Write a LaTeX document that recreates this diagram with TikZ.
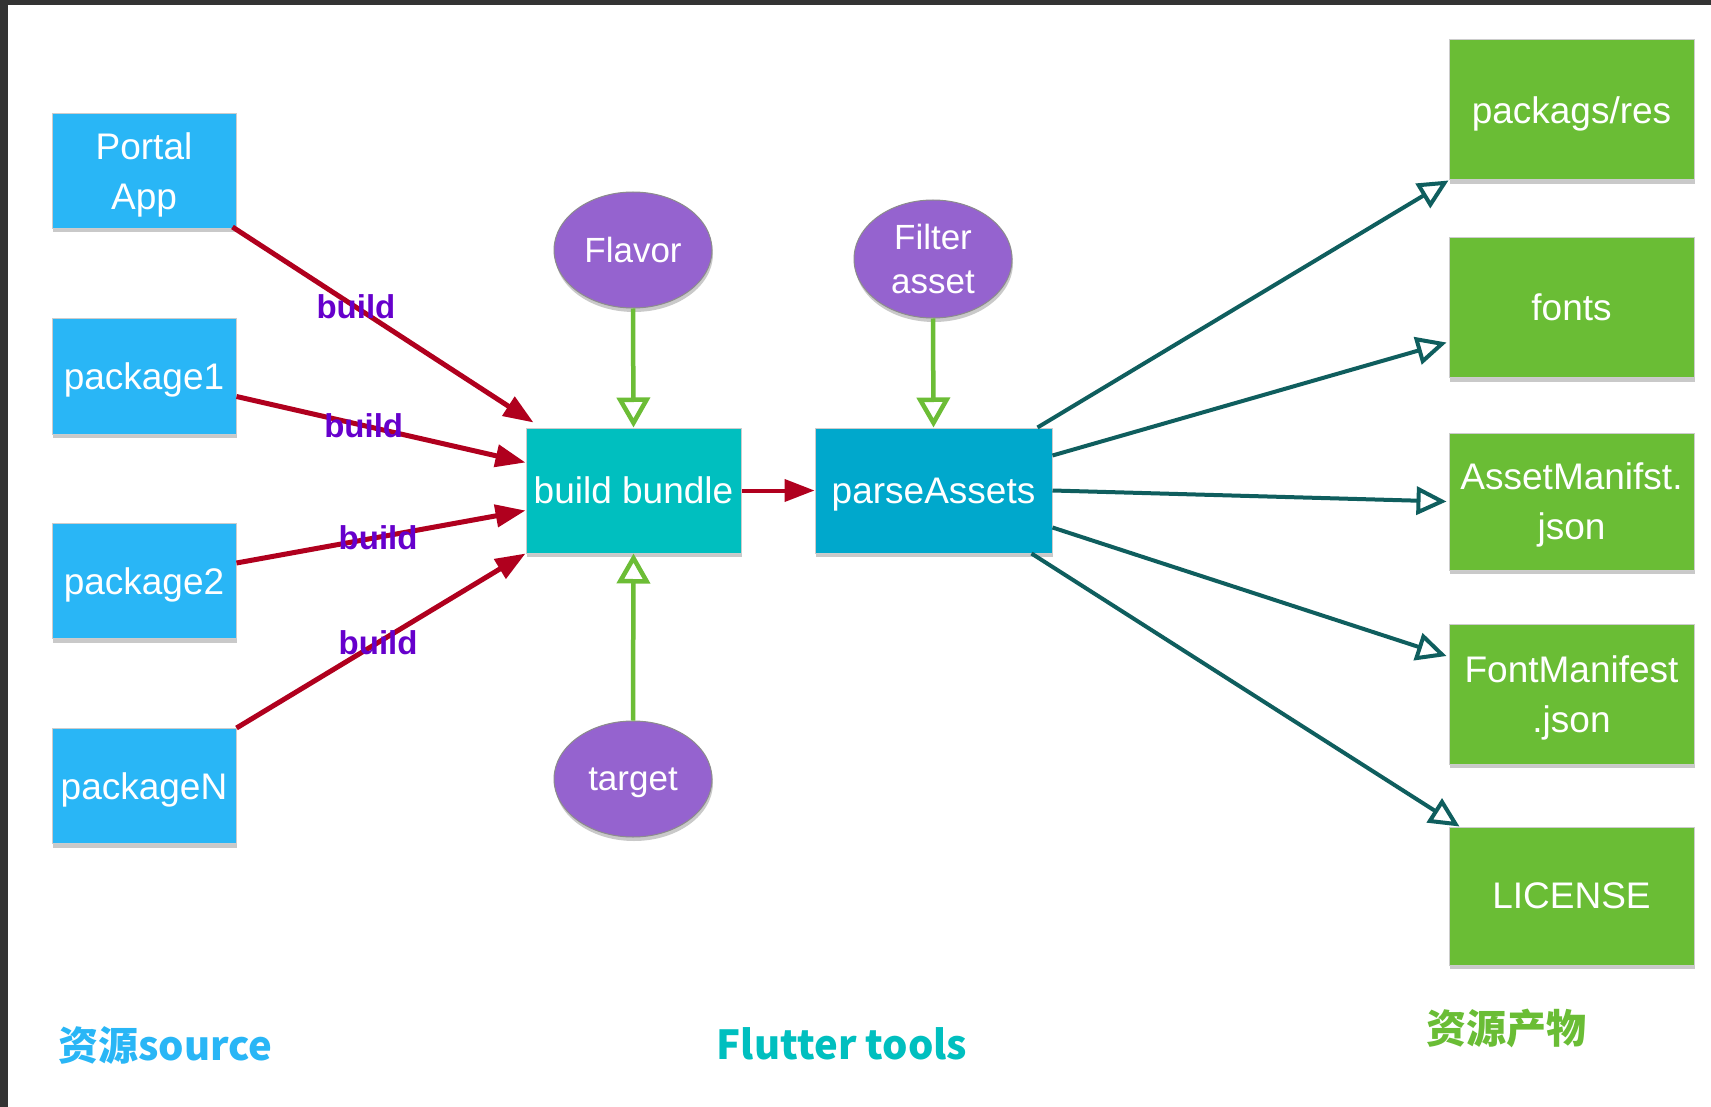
\documentclass[tikz,border=0pt]{standalone}
\usepackage{fontspec}
\setmainfont{Liberation Sans}
\newfontfamily\cjk{Noto Sans CJK SC}
\usetikzlibrary{arrows.meta,shapes.geometric,shadows}
\definecolor{srcblue}{HTML}{29B6F6}
\definecolor{bundlecol}{HTML}{00BFBF}
\definecolor{parsecol}{HTML}{00A8CC}
\definecolor{outgreen}{HTML}{6ABD35}
\definecolor{ellcol}{HTML}{9563CF}
\definecolor{redline}{HTML}{B0001E}
\definecolor{buildpurple}{HTML}{6600CC}
\definecolor{greenline}{HTML}{6CBD36}
\definecolor{tealline}{HTML}{0F5E5E}
\definecolor{framecol}{HTML}{333333}
\tikzset{
  boxshadow/.style={drop shadow={shadow xshift=1pt, shadow yshift=-4pt, opacity=0.35, fill=black!60}},
  box/.style={rectangle, inner sep=0pt, align=center, text=white, text depth=0pt,
    font=\fontsize{37}{50}\selectfont, draw=white!80!black, line width=1pt, boxshadow},
  srcbox/.style={box, fill=srcblue, minimum width=184pt, minimum height=115pt},
  outbox/.style={box, fill=outgreen, minimum width=245pt, minimum height=140pt},
  ell/.style={ellipse, fill=ellcol, draw=black!45, line width=1pt, inner sep=0pt, text depth=0pt,
    minimum width=158pt, minimum height=116pt, text=white, align=center,
    font=\fontsize{35}{44}\selectfont, boxshadow},
  redarrow/.style={draw=redline, line width=5pt, -{Triangle[length=30pt,width=22pt]}},
  greenarrow/.style={draw=greenline, line width=4.5pt, -{Triangle[open,length=30pt,width=33pt]}},
  tealarrow/.style={draw=tealline, line width=4pt, -{Triangle[open,length=30pt,width=28pt]}},
  buildlbl/.style={text=buildpurple, font=\bfseries\fontsize{33}{36}\selectfont, inner sep=0pt},
  bottomlbl/.style={font=\cjk\bfseries\fontsize{40}{44}\selectfont, inner sep=0pt},
}
\begin{document}
\begin{tikzpicture}[x=1pt,y=-1pt]
\useasboundingbox (0,0) rectangle (1711,1107);
\fill[framecol] (0,0) rectangle (1711,1107);
\fill[white] (8,5) rectangle (1711,1107);

% source boxes
\node[srcbox] (portal) at (144,171) {Portal\\App};
\node[srcbox] (pkg1) at (144,376.5) {package1};
\node[srcbox] (pkg2) at (144,581) {package2};
\node[srcbox] (pkgN) at (144,786) {packageN};

% tools
\node[box, fill=bundlecol, minimum width=215pt, minimum height=125pt] (bundle) at (633.5,490.5) {build bundle};
\node[box, fill=parsecol, minimum width=237pt, minimum height=125pt] (parse) at (933.5,490.5) {parseAssets};

\node[ell] (flavor) at (633,250) {Flavor};
\node[ell, minimum height=118pt] (filter) at (933,259) {Filter\\asset};
\node[ell] (target) at (633,779) {target};

% outputs
\node[outbox] (res) at (1571.5,110) {packags/res};
\node[outbox] (fonts) at (1571.5,307.5) {fonts};
\node[outbox, minimum height=137pt] (asset) at (1571.5,501.5) {AssetManifst.\\json};
\node[outbox] (fontm) at (1571.5,694) {FontManifest\\.json};
\node[outbox, minimum height=138pt] (license) at (1571.5,896) {LICENSE};

% red arrows
\draw[redarrow] ([xshift=-4pt,yshift=2pt]portal.south east) -- node[buildlbl, pos=0.41] {build} ([xshift=8pt,yshift=5pt]bundle.north west);
\draw[redarrow] ([yshift=-20pt]pkg1.east) -- node[buildlbl, pos=0.44] {build} ([yshift=28pt]bundle.west);
\draw[redarrow] ([yshift=18pt]pkg2.east) -- node[buildlbl, pos=0.49] {build} ([yshift=-20pt]bundle.west);
\draw[redarrow] (pkgN.north east) -- node[buildlbl, pos=0.49] {build} (bundle.south west);
\draw[redarrow, line width=4pt] (bundle.east) -- (parse.west);

% green arrows
\draw[greenarrow] (flavor.south) -- (bundle.north);
\draw[greenarrow] (filter.south) -- (parse.north);
\draw[greenarrow] (target.north) -- (bundle.south);

% teal arrows
\draw[tealarrow] ([xshift=-15pt]parse.north east) -- (res.south west);
\draw[tealarrow] ([yshift=35pt]parse.east) -- ([xshift=-2pt,yshift=-35pt]fonts.west);
\draw[tealarrow] (parse.east) -- ([xshift=-2pt]asset.west);
\draw[tealarrow] ([yshift=-37pt]parse.east) -- ([xshift=-2pt,yshift=38pt]fontm.west);
\draw[tealarrow] ([xshift=-21pt]parse.south east) -- ([xshift=11pt]license.north west);

% bottom labels
\node[bottomlbl, anchor=west, text=srcblue] (lsrc) at (58,1045) {资源source};
\node[bottomlbl, text=bundlecol] (ltools) at (842,1044) {Flutter tools};
\node[bottomlbl, text=outgreen] (lout) at (1506,1028) {资源产物};
\end{tikzpicture}
\end{document}
